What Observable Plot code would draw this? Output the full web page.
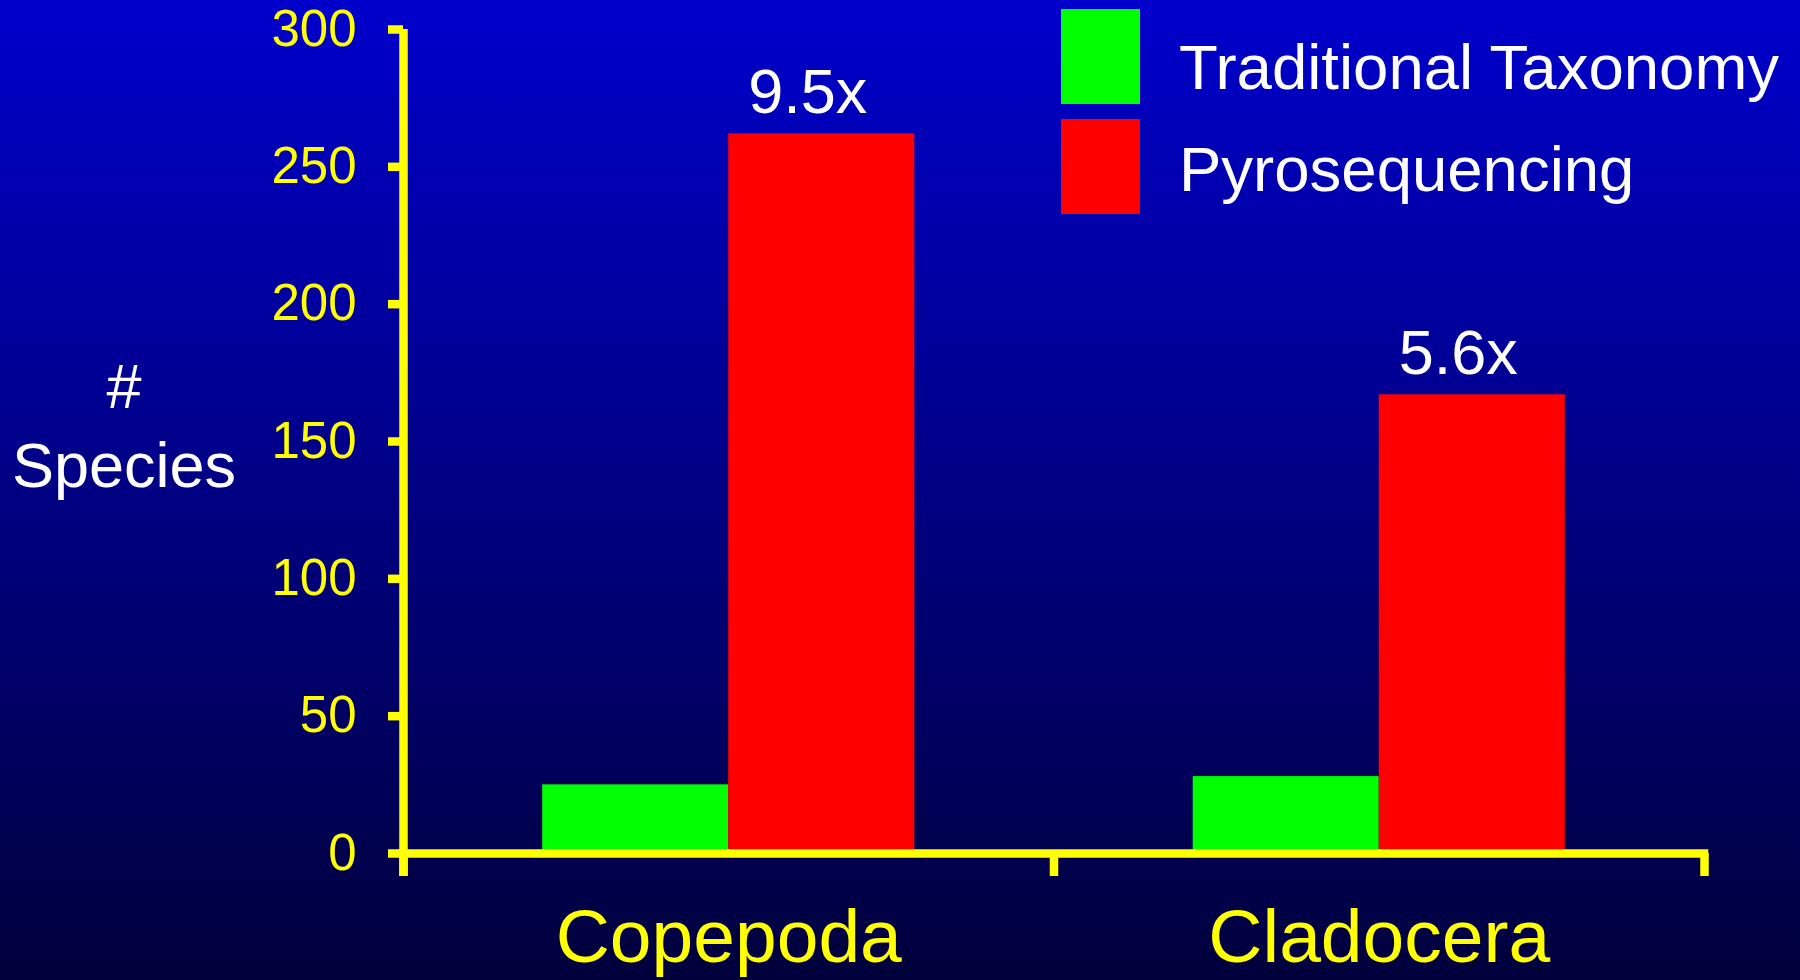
<!DOCTYPE html>
<html>
<head>
<meta charset="utf-8">
<script src="https://cdn.jsdelivr.net/npm/d3@7"></script>
<script src="https://cdn.jsdelivr.net/npm/@observablehq/plot@0.6"></script>
<style>
  html, body { margin: 0; padding: 0; background: #00003C; }
  #chart {
    position: relative; width: 1800px; height: 980px; overflow: hidden;
    background: linear-gradient(to bottom, #0000CC 0%, #00003C 100%);
    font-family: "Liberation Sans", Arial, sans-serif;
  }
  #chart svg { position: absolute; left: 0; top: 0; }
  .ylabel {
    position: absolute; left: 0; top: 347px; width: 248px;
    text-align: center; color: #ffffff; font-size: 63px; line-height: 79px;
  }
  .swatch { position: absolute; left: 1061px; width: 79px; height: 95px; }
  .legtext {
    position: absolute; left: 1179px; color: #ffffff; font-size: 63.5px;
    line-height: 63.5px; white-space: nowrap;
  }
</style>
</head>
<body>
<div id="chart"></div>
<script>
// ---- data ----
const categories = ["Copepoda", "Cladocera"];
const series = ["Traditional Taxonomy", "Pyrosequencing"];
const traditional = [25, 28];
const pyrosequencing = [262, 167];
const ratioLabels = ["9.5x", "5.6x"];
const yTicks = [0, 50, 100, 150, 200, 250, 300];
const seriesColors = ["#00FF00", "#FF0000"];

// ---- styling ----
const yellow = "#FFFF00";
const axisWidth = 8.5;
const barFrac = 0.286; // fraction of a category band taken by one bar

const seriesValues = [traditional, pyrosequencing];
const rows = categories.flatMap((c, ci) =>
  series.map((s, si) => ({category: c, ci, series: s, si, value: seriesValues[si][ci]}))
);
const ratioRows = categories.map((c, ci) => ({ci, value: pyrosequencing[ci], label: ratioLabels[ci]}));

const plot = Plot.plot({
  width: 1800,
  height: 980,
  marginLeft: 403,
  marginRight: 96,
  marginTop: 29,
  marginBottom: 127,
  style: {background: "transparent", fontFamily: "'Liberation Sans', Arial, sans-serif", overflow: "visible"},
  x: {type: "linear", domain: [0, categories.length]},
  y: {domain: [0, 300]},
  color: {domain: series, range: seriesColors},
  marks: [
    Plot.rectY(rows, {
      x1: d => d.ci + 0.5 + (d.si - 1) * barFrac,
      x2: d => d.ci + 0.5 + d.si * barFrac,
      y: "value",
      fill: "series"
    }),
    Plot.ruleY([0], {stroke: yellow, strokeWidth: axisWidth, strokeLinecap: "square"}),
    Plot.ruleX([0], {stroke: yellow, strokeWidth: axisWidth, insetBottom: -23}),
    Plot.axisY({
      ticks: yTicks, tickSize: 15, tickPadding: 32, color: yellow,
      strokeWidth: axisWidth, fontSize: 51, label: null, tickFormat: d => String(d)
    }),
    Plot.axisX({
      ticks: d3.range(categories.length + 1), tickSize: 23, color: yellow,
      strokeWidth: axisWidth, tickFormat: () => "", label: null
    }),
    Plot.text(categories, {
      x: (d, i) => i + 0.5, frameAnchor: "bottom", lineAnchor: "bottom", dy: 108,
      fill: yellow, fontSize: 75, text: d => d
    }),
    Plot.text(ratioRows, {
      x: d => d.ci + 0.5 + barFrac / 2, y: "value", text: "label",
      dy: -41, dx: -14, fill: "#ffffff", fontSize: 63
    })
  ]
});

const chart = document.getElementById("chart");
chart.appendChild(plot);

// y-axis title
const yl = document.createElement("div");
yl.className = "ylabel";
yl.innerHTML = "#<br>Species";
chart.appendChild(yl);

// legend
series.forEach((s, i) => {
  const sw = document.createElement("div");
  sw.className = "swatch";
  sw.style.top = (9 + 110 * i) + "px";
  sw.style.background = seriesColors[i];
  chart.appendChild(sw);
  const t = document.createElement("div");
  t.className = "legtext";
  t.style.top = (36 + 102 * i) + "px";
  t.textContent = s;
  chart.appendChild(t);
});
</script>
</body>
</html>
